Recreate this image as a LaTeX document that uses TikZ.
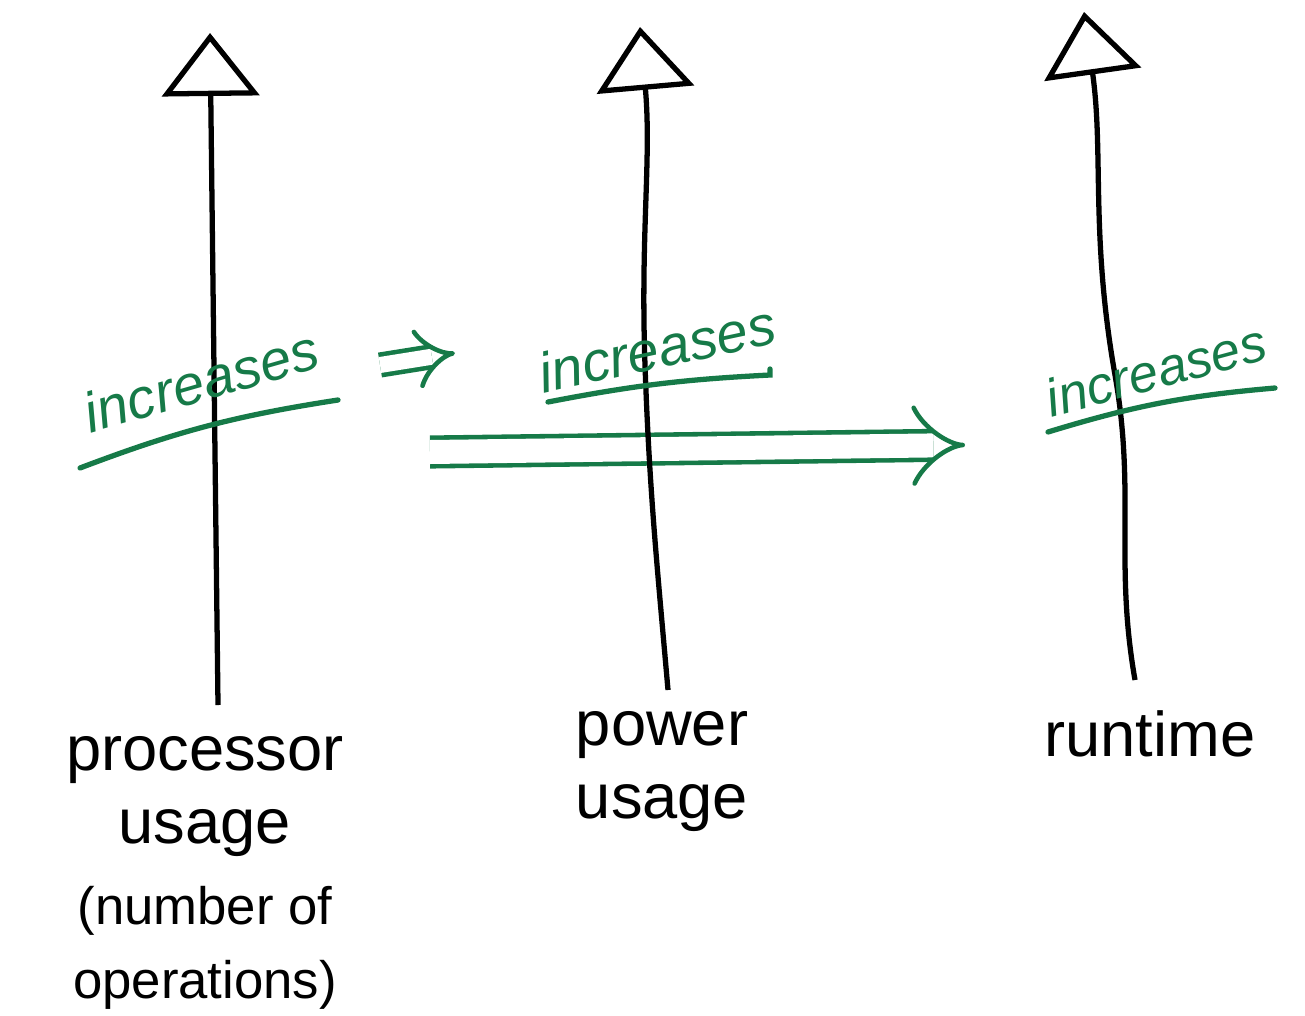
\documentclass[tikz,border=0pt]{standalone}
\usepackage{fontspec}
\setmainfont{Liberation Sans}
\usetikzlibrary{arrows.meta,positioning}
\definecolor{inkgreen}{RGB}{22,122,72}

\begin{document}
\begin{tikzpicture}[semithick,
axisline/.style={line width=1.5pt, -{Triangle[open,length=6.3mm,width=9.7mm,line width=1.5pt]}},
axislabel/.style={font=\fontsize{18}{21}\selectfont, align=center, inner sep=0pt},
incr/.style={text=inkgreen, font=\fontsize{16}{18}\selectfont\itshape, inner sep=1pt, anchor=south},
under/.style={draw=inkgreen, line width=1.5pt, line cap=round},
bigimplies/.style={draw=inkgreen, line width=1.3pt, -{Implies}}]
\useasboundingbox (0,0) rectangle (13.05,10.15);

\coordinate (procbot) at (2.18,3.10);
\coordinate (proctop) at (2.10,9.82);
\coordinate (powbot) at (6.68,3.25);
\coordinate (powtop) at (6.40,9.88);
\coordinate (runbot) at (11.35,3.35);
\coordinate (runtop) at (10.84,10.03);

% green arrows under the axes
\coordinate (impa) at (3.80,6.50);
\coordinate (impb) at (4.55,6.62);
\draw[bigimplies, double distance=1.6mm] (impa) -- (impb);
\coordinate (longa) at (4.30,5.63);
\coordinate (longb) at (9.65,5.70);
\draw[bigimplies, double distance=2.4mm] (longa) -- (longb);

\draw[axisline] (procbot) -- (proctop);
\draw[axisline] (powbot) to[out=95,in=-88] (6.45,6.5) to[out=92,in=-85] (powtop);
\draw[axisline] (runbot) to[out=100,in=-80] (11.15,6.4) to[out=100,in=-82] (runtop);

\node[axislabel, anchor=north] (proc) at (2.05,2.80) {processor\\usage\\[2pt]{\fontsize{15}{18}\selectfont (number of}\\{\fontsize{15}{18}\selectfont operations)}};
\node[axislabel, anchor=north] (power) at (6.62,3.05) {power\\usage};
\node[axislabel, anchor=north] (run) at (11.50,3.05) {runtime};

\node[incr, rotate=16] (incproc) at (2.08,6.10) {increases};
\node[incr, rotate=12] (incpower) at (6.62,6.42) {increases};
\node[incr, rotate=15, font=\fontsize{15}{17}\selectfont\itshape] (incrun) at (11.62,6.22) {increases};

\coordinate (ua) at (0.80,5.47);
\coordinate (ub) at (3.38,6.15);
\draw[under] (ua) to[bend left=6] (ub);
\coordinate (uc) at (5.48,6.13);
\coordinate (ud) at (7.70,6.40);
\draw[under] (uc) to[bend left=4] (ud) -- ++(0,0.06);
\coordinate (ue) at (10.48,5.83);
\coordinate (uf) at (12.75,6.27);
\draw[under] (ue) to[bend left=6] (uf);
\end{tikzpicture}
\end{document}
